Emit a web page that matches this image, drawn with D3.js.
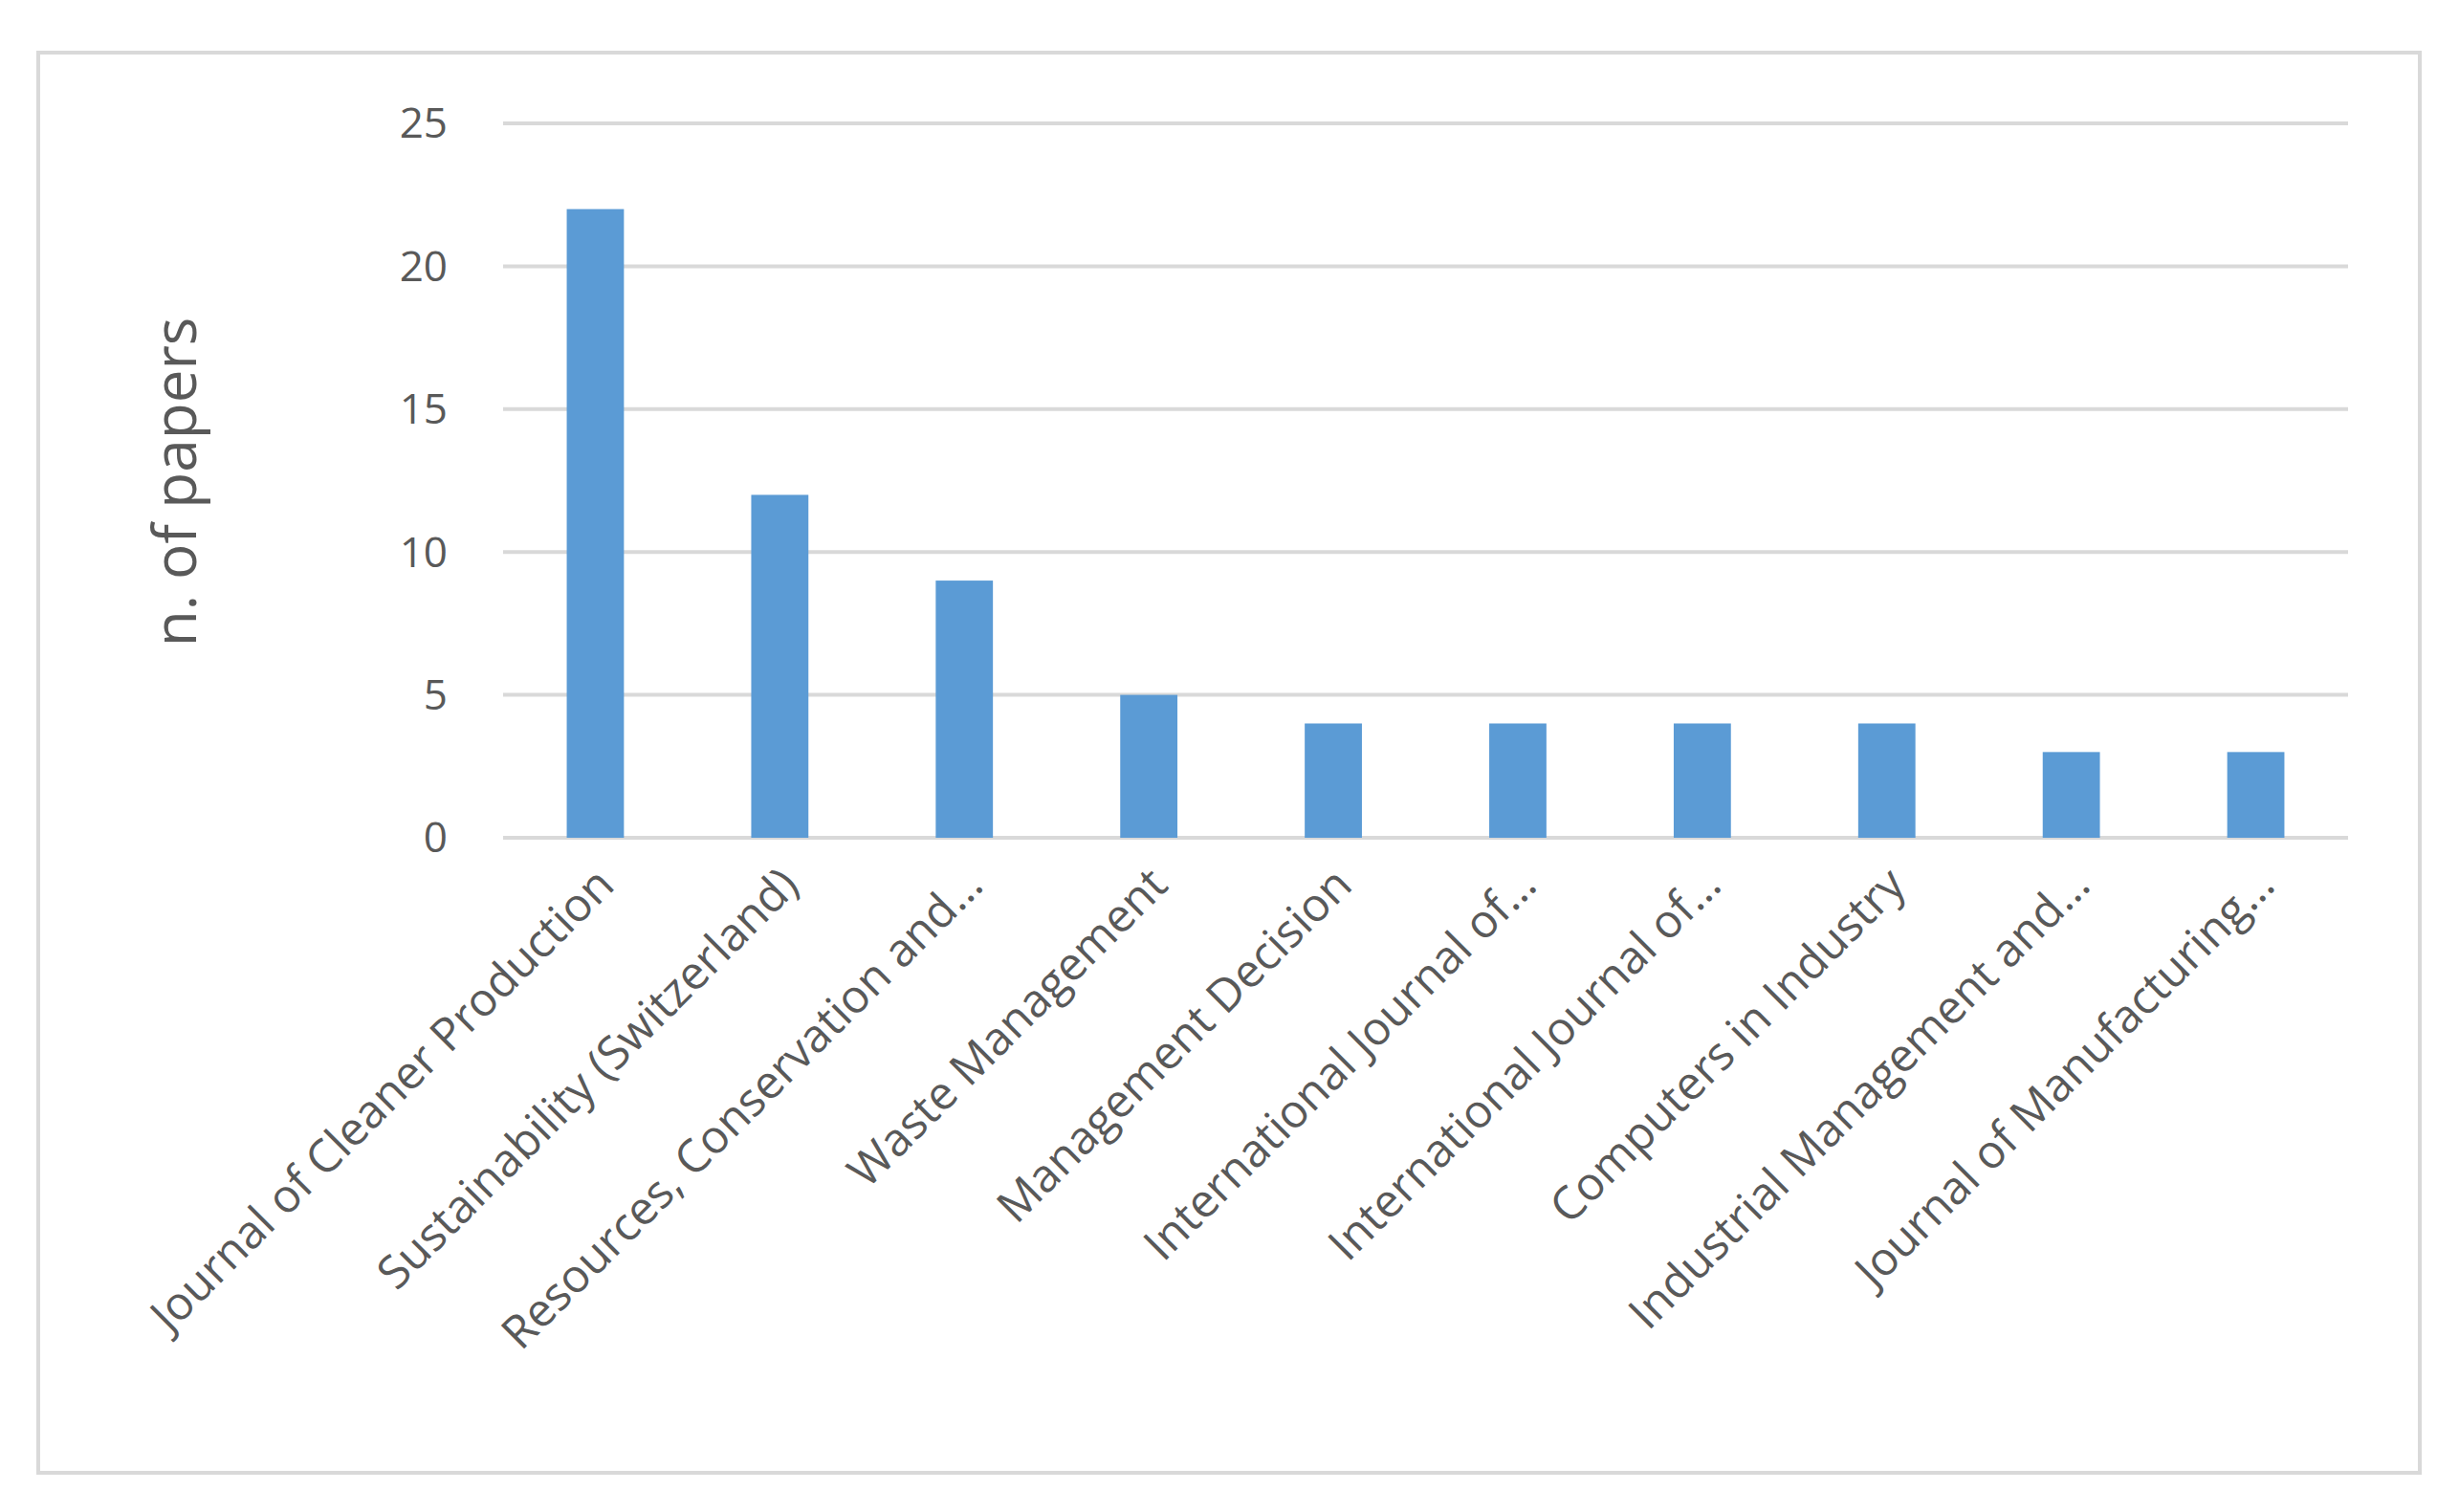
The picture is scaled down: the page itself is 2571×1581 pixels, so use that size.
<!DOCTYPE html>
<html><head><meta charset="utf-8">
<script src="https://cdn.jsdelivr.net/npm/d3@7"></script>
<style>body{margin:0;background:#fff}</style></head>
<body><svg id="c" width="2571" height="1581"></svg>
<script>
const categories=["Journal of Cleaner Production","Sustainability (Switzerland)","Resources, Conservation and…","Waste Management","Management Decision","International Journal of…","International Journal of…","Computers in Industry","Industrial Management and…","Journal of Manufacturing…"];
const values=[22,12,9,5,4,4,4,4,3,3];
const yTicks=[0,5,10,15,20,25];
const svg=d3.select("#c");
svg.append("rect").attr("x",40).attr("y",55).attr("width",2490).attr("height",1485).attr("fill","#fff").attr("stroke","#d9d9d9").attr("stroke-width",4);
const x=d3.scaleBand().domain(d3.range(categories.length)).range([526,2455]).paddingInner(0.69).paddingOuter(0.345);
const y=d3.scaleLinear().domain([0,25]).range([876,129]);
const font="'Open Sans','Liberation Sans',sans-serif";
yTicks.forEach(t=>{
 svg.append("line").attr("x1",526).attr("x2",2455).attr("y1",y(t)).attr("y2",y(t)).attr("stroke","#d9d9d9").attr("stroke-width",4);
 svg.append("text").attr("x",468).attr("y",y(t)).attr("dy","0.35em").attr("text-anchor","end").attr("font-family",font).attr("font-size",44).attr("fill","#595959").text(t);
});
svg.selectAll(".bar").data(values).enter().append("rect").attr("x",(d,i)=>x(i)).attr("width",x.bandwidth()).attr("y",d=>y(d)).attr("height",d=>y(0)-y(d)).attr("fill","#5B9BD5");
categories.forEach((c,i)=>{
 const cx=x(i)+x.bandwidth()/2;
 svg.append("text").attr("transform",`translate(${cx+22},${y(0)+52}) rotate(-45)`).attr("text-anchor","end").attr("font-family",font).attr("font-size",48).attr("fill","#595959").text(c);
});
svg.append("text").attr("transform","translate(205,504) rotate(-90)").attr("text-anchor","middle").attr("font-family",font).attr("font-size",62).attr("fill","#595959").text("n. of papers");
</script></body></html>
